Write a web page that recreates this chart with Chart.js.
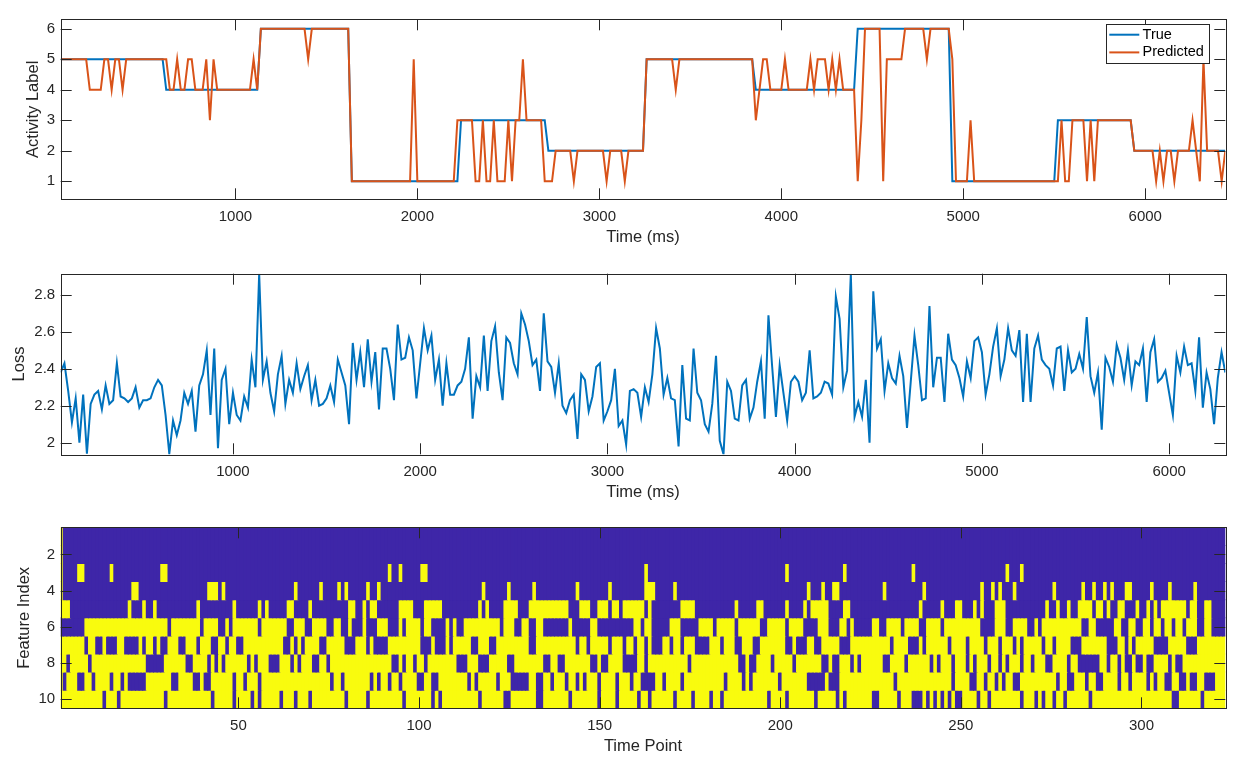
<!DOCTYPE html>
<html>
<head>
<meta charset="utf-8">
<title>Activity prediction</title>
<script src="https://cdn.jsdelivr.net/npm/chart.js@4.4.1/dist/chart.umd.min.js"></script>
<style>
  html, body { margin: 0; padding: 0; background: #fff; }
  .panel { position: absolute; left: 0; width: 1245px; }
</style>
</head>
<body>
<div class="panel" style="top:0;height:255px"><canvas id="activity"></canvas></div>
<div class="panel" style="top:255px;height:255px"><canvas id="loss"></canvas></div>
<div class="panel" style="top:510px;height:259px"><canvas id="features"></canvas></div>
<script>
// ---- data ----
const ACT_T0 = 40, ACT_DT = 20;     // ms, sampling of the label series
const LOSS_T0 = 80, LOSS_DT = 20;   // ms, sampling of the loss series

const trueLabel = [
  5,5,5,5,5,5,5,5,5,5,5,5,5,5,5,5,5,5,5,5,
  5,5,5,5,5,5,5,5,5,4,4,4,4,4,4,4,4,4,4,4,
  4,4,4,4,4,4,4,4,4,4,4,4,4,4,4,6,6,6,6,6,
  6,6,6,6,6,6,6,6,6,6,6,6,6,6,6,6,6,6,6,6,
  1,1,1,1,1,1,1,1,1,1,1,1,1,1,1,1,1,1,1,1,
  1,1,1,1,1,1,1,1,1,1,3,3,3,3,3,3,3,3,3,3,
  3,3,3,3,3,3,3,3,3,3,3,3,3,3,2,2,2,2,2,2,
  2,2,2,2,2,2,2,2,2,2,2,2,2,2,2,2,2,2,2,2,
  2,5,5,5,5,5,5,5,5,5,5,5,5,5,5,5,5,5,5,5,
  5,5,5,5,5,5,5,5,5,5,5,4,4,4,4,4,4,4,4,4,
  4,4,4,4,4,4,4,4,4,4,4,4,4,4,4,4,4,4,4,6,
  6,6,6,6,6,6,6,6,6,6,6,6,6,6,6,6,6,6,6,6,
  6,6,6,6,6,1,1,1,1,1,1,1,1,1,1,1,1,1,1,1,
  1,1,1,1,1,1,1,1,1,1,1,1,1,1,3,3,3,3,3,3,
  3,3,3,3,3,3,3,3,3,3,3,3,3,3,3,2,2,2,2,2,
  2,2,2,2,2,2,2,2,2,2,2,2,2,2,2,2,2,2,2,2,
  2
];

const predLabel = [
  5,5,5,5,5,5,5,5,4,4,4,4,5,5,4,5,5,4,5,5,
  5,5,5,5,5,5,5,5,5,5,4,4,5,4,4,5,5,4,4,4,
  5,3,5,4,4,4,4,4,4,4,4,4,4,5,4,6,6,6,6,6,
  6,6,6,6,6,6,6,6,5,6,6,6,6,6,6,6,6,6,6,6,
  1,1,1,1,1,1,1,1,1,1,1,1,1,1,1,1,1,5,1,1,
  1,1,1,1,1,1,1,1,1,3,3,3,3,3,1,1,3,1,1,3,
  1,1,1,3,1,3,3,5,3,3,3,3,3,1,1,1,2,2,2,2,
  2,1,2,2,2,2,2,2,2,2,1,2,2,2,2,1,2,2,2,2,
  2,5,5,5,5,5,5,5,5,4,5,5,5,5,5,5,5,5,5,5,
  5,5,5,5,5,5,5,5,5,5,5,3,4,5,5,4,4,4,4,5,
  4,4,4,4,4,4,5,4,5,5,5,4,5,4,5,4,4,4,4,1,
  3,6,6,6,6,6,1,5,5,5,5,5,6,6,6,6,6,6,5,6,
  6,6,6,6,6,5,1,1,1,1,3,1,1,1,1,1,1,1,1,1,
  1,1,1,1,1,1,1,1,1,1,1,1,1,1,1,3,1,1,3,3,
  3,3,1,3,1,3,3,3,3,3,3,3,3,3,3,2,2,2,2,2,
  2,1,2,1,2,2,1,2,2,2,2,3,2,1,5,2,2,2,2,1,
  2
];

const lossValues = [
  2.38,2.43,2.28,2.11,2.24,2.00,2.26,1.94,2.21,2.26,
  2.28,2.18,2.31,2.21,2.23,2.43,2.25,2.24,2.22,2.24,
  2.30,2.19,2.23,2.23,2.24,2.30,2.34,2.31,2.15,1.94,
  2.12,2.04,2.12,2.27,2.21,2.28,2.06,2.31,2.37,2.50,
  2.15,2.51,1.97,2.34,2.40,2.10,2.27,2.15,2.12,2.25,
  2.19,2.45,2.30,2.915,2.34,2.44,2.27,2.17,2.37,2.47,
  2.21,2.34,2.27,2.43,2.29,2.36,2.42,2.23,2.34,2.20,
  2.21,2.24,2.31,2.22,2.45,2.38,2.31,2.10,2.54,2.34,
  2.49,2.30,2.56,2.33,2.49,2.18,2.51,2.51,2.40,2.23,
  2.64,2.45,2.46,2.57,2.50,2.24,2.43,2.62,2.50,2.58,
  2.34,2.45,2.20,2.43,2.26,2.26,2.31,2.33,2.40,2.57,
  2.13,2.36,2.30,2.58,2.28,2.55,2.63,2.38,2.23,2.57,
  2.54,2.43,2.37,2.70,2.64,2.55,2.42,2.45,2.28,2.70,
  2.44,2.41,2.27,2.43,2.20,2.16,2.23,2.26,2.02,2.37,
  2.34,2.17,2.25,2.41,2.43,2.12,2.17,2.23,2.40,2.09,
  2.12,1.99,2.28,2.29,2.27,2.14,2.30,2.22,2.37,2.62,
  2.51,2.26,2.35,2.24,2.23,1.98,2.42,2.13,2.12,2.51,
  2.27,2.23,2.10,2.06,2.21,2.47,2.01,1.937,2.33,2.28,
  2.13,2.12,2.31,2.34,2.13,2.19,2.33,2.44,2.13,2.69,
  2.41,2.14,2.42,2.27,2.12,2.33,2.36,2.33,2.23,2.27,
  2.50,2.24,2.25,2.27,2.33,2.32,2.26,2.79,2.67,2.30,
  2.39,2.915,2.14,2.22,2.14,2.34,2.00,2.82,2.51,2.56,
  2.28,2.43,2.35,2.32,2.47,2.36,2.08,2.33,2.58,2.42,
  2.23,2.24,2.74,2.30,2.46,2.46,2.22,2.59,2.45,2.42,
  2.35,2.25,2.44,2.35,2.55,2.57,2.49,2.26,2.37,2.52,
  2.62,2.36,2.45,2.62,2.50,2.47,2.61,2.22,2.59,2.22,
  2.51,2.58,2.45,2.42,2.40,2.31,2.51,2.52,2.28,2.50,
  2.38,2.40,2.48,2.40,2.68,2.36,2.27,2.38,2.07,2.46,
  2.41,2.33,2.53,2.46,2.34,2.50,2.31,2.44,2.42,2.51,
  2.22,2.49,2.56,2.33,2.35,2.39,2.27,2.15,2.47,2.38,
  2.52,2.42,2.43,2.28,2.57,2.19,2.38,2.29,2.10,2.35,
  2.49,2.38
];

// binary feature map: 10 features x 323 time points
const FEATURES = 10, TIME_POINTS = 323;
// rows 1-5: time points where the feature is ON (yellow)
const onColumns = [
  [1],
  [1],
  [1,6,7,15,29,30,92,95,101,102,163,202,218,237,263,267],
  [1,21,22,42,43,44,46,66,73,78,80,86,89,118,125,132,144,153,163,164,165,171,208,212,215,216,
   229,240,256,259,261,265,276,284,287,290,292,296,297,303,308,315],
  [1,2,3,20,24,27,39,49,56,58,64,65,70,81,82,85,87,88,95,96,97,98,102,103,104,105,106,
   117,119,124,125,126,127,131,132,133,134,135,136,137,138,139,140,141,145,146,147,150,151,152,
   154,155,157,158,159,160,161,162,164,173,174,175,176,188,194,195,202,207,209,210,211,212,213,
   218,219,239,245,249,250,254,256,260,261,262,274,277,280,283,284,285,286,288,289,291,294,295,
   299,302,304,306,307,308,309,310,311,312,314,315,318,319]
];
// rows 6-10: time points where the feature is OFF (blue)
const offColumns = [
  [1,2,3,4,5,6,7,31,40,45,46,48,56,64,65,69,70,75,76,79,80,82,83,84,86,87,88,92,93,94,96,101,
   104,105,106,107,109,111,112,123,127,128,131,132,135,136,137,138,139,140,141,143,144,145,146,147,
   150,151,152,153,154,155,156,157,158,159,162,165,166,167,168,169,173,174,175,176,177,182,188,
   195,196,202,207,208,209,210,214,215,216,219,221,222,223,224,225,228,229,234,239,240,245,
   256,257,258,259,263,264,269,270,272,284,285,288,289,290,291,292,295,296,299,300,303,306,309,
   312,316,317,320,321,322,323],
  [8,11,12,14,15,16,19,20,21,22,24,27,29,30,34,35,39,43,44,47,50,51,63,64,66,68,73,74,80,81,82,
   86,88,89,90,91,101,102,103,105,106,107,109,115,116,120,121,131,132,144,147,153,157,160,163,
   165,166,167,170,173,177,178,179,180,184,188,189,193,194,202,203,205,206,207,210,211,217,218,
   219,231,236,237,238,240,247,252,257,261,265,267,273,276,281,282,283,291,292,293,296,298,
   304,305,306,307,313,314,315],
  [3,9,25,26,27,28,29,36,37,42,44,46,53,55,59,60,61,65,67,71,72,75,93,94,96,99,102,111,112,113,
   117,118,119,125,126,135,136,139,140,148,149,151,152,157,158,159,160,163,175,189,190,192,193,
   198,204,212,213,215,216,220,222,229,230,235,242,244,248,252,254,258,261,263,267,270,274,275,
   280,283,284,285,286,287,288,291,294,296,297,299,300,302,303,308,310,311],
  [2,6,7,10,15,18,20,21,22,23,24,32,33,38,39,41,42,49,52,56,76,79,87,89,92,95,100,101,104,105,
   114,116,122,126,127,128,129,130,133,134,137,141,144,146,150,155,159,162,163,164,165,168,173,
   185,190,192,200,208,209,210,211,212,214,215,216,232,248,253,254,257,260,262,265,266,277,280,
   281,285,288,289,294,297,302,304,307,308,311,312,314,315,318,319,320],
  [13,17,30,43,49,54,56,62,66,70,80,86,96,104,106,117,124,125,133,134,142,150,155,161,164,171,
   176,181,184,197,202,210,216,218,226,227,233,237,238,239,241,243,245,247,249,250,255,258,267,
   271,273,276,279,286,309,310,317]
];

const activityTicks = [1, 2, 3, 4, 5, 6];
const timeTicks = [1000, 2000, 3000, 4000, 5000, 6000];
const lossTicks = [2, 2.2, 2.4, 2.6, 2.8];
const featureTicks = [2, 4, 6, 8, 10];
const pointTicks = [50, 100, 150, 200, 250, 300];

// ---- styling ----
const INK = '#262626';
const FAMILY = '"Liberation Sans", Arial, Helvetica, sans-serif';
const TICK_FONT = { family: FAMILY, size: 15 };
const TITLE_FONT = { family: FAMILY, size: 16.5 };
const TICK_LEN = 11;
const BLUE = '#0072bd', ORANGE = '#d95319';
const MAP_LOW = '#3e26a8', MAP_HIGH = '#f9fb0e';

function fixedTicks(values) {
  return scale => { scale.ticks = values.map(v => ({ value: v })); };
}

function xAxis(min, max, ticks, title, titlePad, height) {
  return {
    type: 'linear', min: min, max: max, bounds: 'data', offset: false,
    afterBuildTicks: fixedTicks(ticks),
    afterFit: s => { s.height = height; },
    grid: { display: false, drawTicks: false }, border: { display: false },
    ticks: { color: INK, font: TICK_FONT, padding: 8.5, maxRotation: 0, autoSkip: false,
             callback: v => String(v) },
    title: { display: true, text: title, color: INK, font: TITLE_FONT,
             padding: { top: 0, bottom: titlePad } }
  };
}

function yAxis(min, max, ticks, title, titlePad, reverse) {
  return {
    type: 'linear', min: min, max: max, bounds: 'data', reverse: !!reverse,
    afterBuildTicks: fixedTicks(ticks),
    afterFit: s => { s.width = 60.7; },
    grid: { display: false, drawTicks: false }, border: { display: false },
    ticks: { color: INK, font: TICK_FONT, padding: 5.5, autoSkip: false,
             callback: v => String(v) },
    title: { display: true, text: title, color: INK, font: TITLE_FONT,
             padding: { top: titlePad, bottom: 0 } }
  };
}

// box around the axes plus inward tick marks on all four sides
const axesBox = {
  id: 'axesBox',
  afterDraw(chart) {
    const { ctx, chartArea: a } = chart;
    const xs = chart.scales.x, ys = chart.scales.y;
    ctx.save();
    ctx.strokeStyle = INK;
    ctx.lineWidth = 1;
    ctx.beginPath();
    xs.ticks.forEach(t => {
      const px = Math.round(xs.getPixelForValue(t.value)) + 0.5;
      ctx.moveTo(px, a.bottom); ctx.lineTo(px, a.bottom - TICK_LEN);
      ctx.moveTo(px, a.top); ctx.lineTo(px, a.top + TICK_LEN);
    });
    ys.ticks.forEach(t => {
      const py = Math.round(ys.getPixelForValue(t.value)) + 0.5;
      ctx.moveTo(a.left, py); ctx.lineTo(a.left + TICK_LEN, py);
      ctx.moveTo(a.right, py); ctx.lineTo(a.right - TICK_LEN, py);
    });
    ctx.stroke();
    ctx.strokeRect(Math.round(a.left) + 0.5, Math.round(a.top) + 0.5,
                   Math.round(a.right - a.left), Math.round(a.bottom - a.top));
    ctx.restore();
  }
};

// legend drawn inside the top-right corner, MATLAB style
const insideLegend = {
  id: 'insideLegend',
  afterDraw(chart) {
    const { ctx, chartArea: a } = chart;
    const items = chart.data.datasets;
    ctx.save();
    ctx.font = '14.5px ' + FAMILY;
    const textW = Math.max(...items.map(d => ctx.measureText(d.label).width));
    const w = Math.round(36.6 + textW + 4.8), h = 39;
    const x0 = Math.round(a.right - 16 - w), y0 = Math.round(a.top + 5);
    ctx.fillStyle = '#fff';
    ctx.fillRect(x0, y0, w, h);
    ctx.strokeStyle = INK;
    ctx.lineWidth = 1;
    ctx.strokeRect(x0 + 0.5, y0 + 0.5, w, h);
    items.forEach((d, i) => {
      const cy = y0 + 10.7 + i * 17.7;
      ctx.strokeStyle = d.borderColor;
      ctx.lineWidth = d.borderWidth;
      ctx.beginPath();
      ctx.moveTo(x0 + 3.3, cy); ctx.lineTo(x0 + 33.3, cy);
      ctx.stroke();
      ctx.fillStyle = '#000';
      ctx.textBaseline = 'middle';
      ctx.fillText(d.label, x0 + 36.6, cy);
    });
    ctx.restore();
  }
};

const baseOptions = {
  responsive: true, maintainAspectRatio: false, animation: false,
  events: [],
  plugins: { legend: { display: false }, tooltip: { enabled: false } }
};

// ---- activity labels ----
const actTime = trueLabel.map((_, i) => ACT_T0 + i * ACT_DT);
new Chart(document.getElementById('activity'), {
  type: 'line',
  data: {
    datasets: [
      { label: 'True', data: trueLabel.map((v, i) => ({ x: actTime[i], y: v })),
        borderColor: BLUE, borderWidth: 2, pointRadius: 0, tension: 0, fill: false, order: 1 },
      { label: 'Predicted', data: predLabel.map((v, i) => ({ x: actTime[i], y: v })),
        borderColor: ORANGE, borderWidth: 2, pointRadius: 0, tension: 0, fill: false, order: 0 }
    ]
  },
  options: Object.assign({}, baseOptions, {
    layout: { padding: { top: 19.3, right: 19.7, left: 0, bottom: 0 } },
    scales: {
      x: xAxis(actTime[0], actTime[actTime.length - 1], timeTicks, 'Time (ms)', 7.4, 55.7),
      y: yAxis(0.41, 6.31, activityTicks, 'Activity Label', 24)
    }
  }),
  plugins: [axesBox, insideLegend]
});

// ---- loss ----
const lossTime = lossValues.map((_, i) => LOSS_T0 + i * LOSS_DT);
new Chart(document.getElementById('loss'), {
  type: 'line',
  data: {
    datasets: [
      { label: 'Loss', data: lossValues.map((v, i) => ({ x: lossTime[i], y: v })),
        borderColor: BLUE, borderWidth: 2, pointRadius: 0, tension: 0, fill: false }
    ]
  },
  options: Object.assign({}, baseOptions, {
    layout: { padding: { top: 18.7, right: 19.7, left: 0, bottom: 0 } },
    scales: {
      x: xAxis(lossTime[0], lossTime[lossTime.length - 1], timeTicks, 'Time (ms)', 7.4, 55.7),
      y: yAxis(Math.min(...lossValues), Math.max(...lossValues), lossTicks, 'Loss', 9.6)
    }
  }),
  plugins: [axesBox]
});

// ---- feature map ----
const timePoints = Array.from({ length: TIME_POINTS }, (_, i) => i + 1);
function isOn(row, col) {
  return row <= 5 ? onColumns[row - 1].includes(col) : !offColumns[row - 6].includes(col);
}
const mapDatasets = [];
for (let r = 1; r <= FEATURES; r++) {
  mapDatasets.push({
    label: 'Feature ' + r,
    data: timePoints.map(c => ({ x: c, y: [r - 0.5, r + 0.5] })),
    backgroundColor: timePoints.map(c => isOn(r, c) ? MAP_HIGH : MAP_LOW),
    borderWidth: 0, barPercentage: 1, categoryPercentage: 1, inflateAmount: 0.5
  });
}
const mapX = xAxis(0.8, 323.2, pointTicks, 'Time Point', 13.1, 60.7);
mapX.stacked = true;
const mapY = yAxis(0.5, 10.5, featureTicks, 'Feature Index', 15, true);
mapY.stacked = false;
new Chart(document.getElementById('features'), {
  type: 'bar',
  data: { datasets: mapDatasets },
  options: Object.assign({}, baseOptions, {
    layout: { padding: { top: 17.3, right: 19.7, left: 0, bottom: 0 } },
    scales: { x: mapX, y: mapY }
  }),
  plugins: [axesBox]
});
</script>
</body>
</html>
